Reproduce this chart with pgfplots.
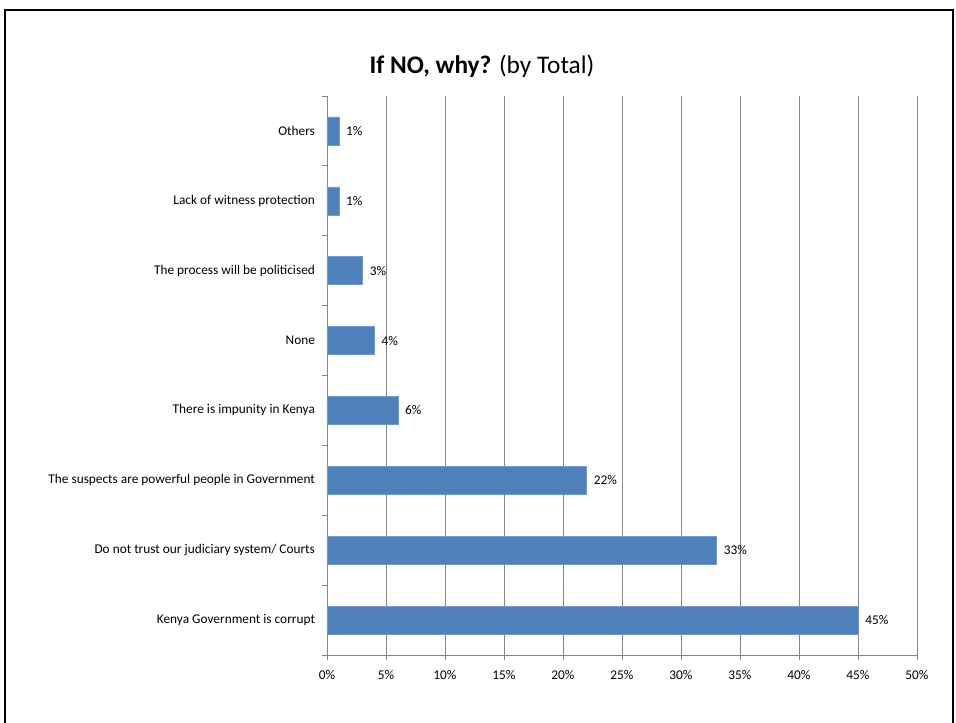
\documentclass[border=0pt]{standalone}
\usepackage{pgfplots}
\pgfplotsset{compat=1.18}
\usetikzlibrary{calc}
\usepackage{fontspec}
\setmainfont{Carlito}
\definecolor{barblue}{HTML}{4F81BD}
\definecolor{gridgray}{HTML}{868686}
\begin{document}
\begin{tikzpicture}
\begin{scope}[overlay]
\begin{axis}[
  name=ax,
  scale only axis, width=442.5pt, height=419.25pt,
  xmin=0, xmax=50, ymin=-0.5, ymax=7.5,
  axis x line*=bottom, axis y line*=left,
  axis line style={gridgray, line width=0.6pt},
  xtick={0,5,...,50},
  xticklabel={\pgfmathprintnumber{\tick}\%},
  ytick={-0.5,0.5,...,7.5},
  yticklabels={Kenya Government is corrupt, Do not trust our judiciary system/ Courts, The suspects are powerful people in Government, There is impunity in Kenya, None, The process will be politicised, Lack of witness protection, Others, {}},
  tick align=outside,
  major tick length=4pt,
  tick style={draw=gridgray, line width=0.6pt},
  xmajorgrids, major grid style={gridgray, line width=0.6pt},
  ticklabel style={font=\fontsize{10}{12}\selectfont},
  /pgf/number format/assume math mode=true,
  xticklabel style={yshift=-4pt},
  yticklabel style={xshift=-1.5pt, yshift=26.2pt},
  xbar, bar width=21pt,
  nodes near coords={\pgfplotspointmeta\%},
  nodes near coords style={font=\fontsize{10}{12}\selectfont, anchor=west, xshift=2pt},
  point meta=explicit symbolic,
]
\addplot[fill=barblue, draw=barblue!80!white] coordinates {
 (45,0) [45] (33,1) [33] (22,2) [22] (6,3) [6] (4,4) [4] (3,5) [3] (1,6) [1] (1,7) [1]
};
\end{axis}
\end{scope}
\coordinate (O) at (ax.south west);
\useasboundingbox ($(O)+(-245.25pt,-51pt)$) rectangle ($(O)+(471.75pt,491.25pt)$);
\draw[line width=1.5pt] ($(O)+(-241.5pt,-51pt)$) -- ($(O)+(-241.5pt,483.75pt)$) -- ($(O)+(469.5pt,483.75pt)$) -- ($(O)+(469.5pt,-51pt)$);
\node[font=\fontsize{19}{23}\selectfont] at ($(O)+(116.25pt,441.75pt)$) {\textbf{If NO, why?} (by Total)};
\end{tikzpicture}
\end{document}
